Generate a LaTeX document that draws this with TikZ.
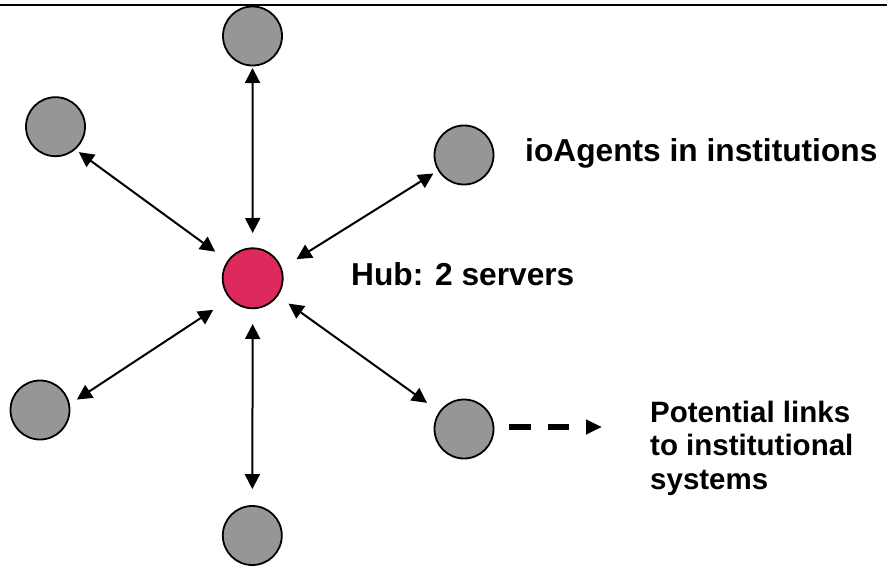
\documentclass[tikz,border=0pt]{standalone}
\usepackage{fontspec}
\setmainfont{Liberation Sans}
\usetikzlibrary{arrows.meta}
\definecolor{nodegray}{RGB}{150,150,150}
\definecolor{hubred}{RGB}{221,41,91}
\begin{document}
\begin{tikzpicture}[x=1pt,y=-1pt,
  agent/.style={circle, draw=black, line width=1.8pt, fill=nodegray, minimum size=59pt, inner sep=0pt},
  hubnode/.style={agent, fill=hubred, minimum size=60pt},
  link/.style={line width=2pt, {Triangle[length=15pt,width=15pt]}-{Triangle[length=15pt,width=15pt]}},
  dasharrow/.style={line width=5.5pt, dash pattern=on 21.5pt off 16.8pt, -{Triangle[length=16pt,width=14pt]}},
  bigtext/.style={anchor=base west, inner sep=0pt, font=\bfseries\fontsize{31.7}{38}\selectfont},
  smalltext/.style={anchor=base west, inner sep=0pt, font=\bfseries\fontsize{29.5}{34}\selectfont}
]
\useasboundingbox (0,0) rectangle (887,570);
\draw[line width=2pt] (0,5) -- (887,5);

\node[agent] (t) at (252.5,36) {};
\node[agent] (ul) at (55.5,126.7) {};
\node[agent] (ur) at (464,155) {};
\node[hubnode] (hub) at (252.7,278.3) {};
\node[agent] (ll) at (40,410) {};
\node[agent] (lr) at (464,429) {};
\node[agent] (b) at (252.3,535.5) {};

\draw[link, shorten <=1.6pt, shorten >=14.4pt] (t.south) -- (hub.north);
\draw[link, shorten <=4.2pt, shorten >=15.1pt] (ul.-49.5) -- (hub.145.1);
\draw[link, shorten <=5.4pt, shorten >=17.2pt] (ur.-149.9) -- (hub.19.8);
\draw[link, shorten <=8.4pt, shorten >=19.7pt] (ll.11.9) -- (hub.-138.2);
\draw[link, shorten <=13pt, shorten >=14.9pt] (hub.-35.8) -- (lr.145.4);
\draw[link, shorten <=14.8pt, shorten >=16pt] (hub.south) -- (b.north);

\coordinate (tip) at (602,427);
\draw[dasharrow, shorten <=15pt] (lr.east |- tip) -- (tip);

\node[bigtext] (agentslabel) at (525,161) {ioAgents in institutions};
\node[bigtext] (hublabel) at (351,285) {Hub: 2 servers};
\node[smalltext] (pot1) at (650,422) {Potential links};
\node[smalltext] (pot2) at (650,455.5) {to institutional};
\node[smalltext] (pot3) at (650,489) {systems};
\end{tikzpicture}
\end{document}
